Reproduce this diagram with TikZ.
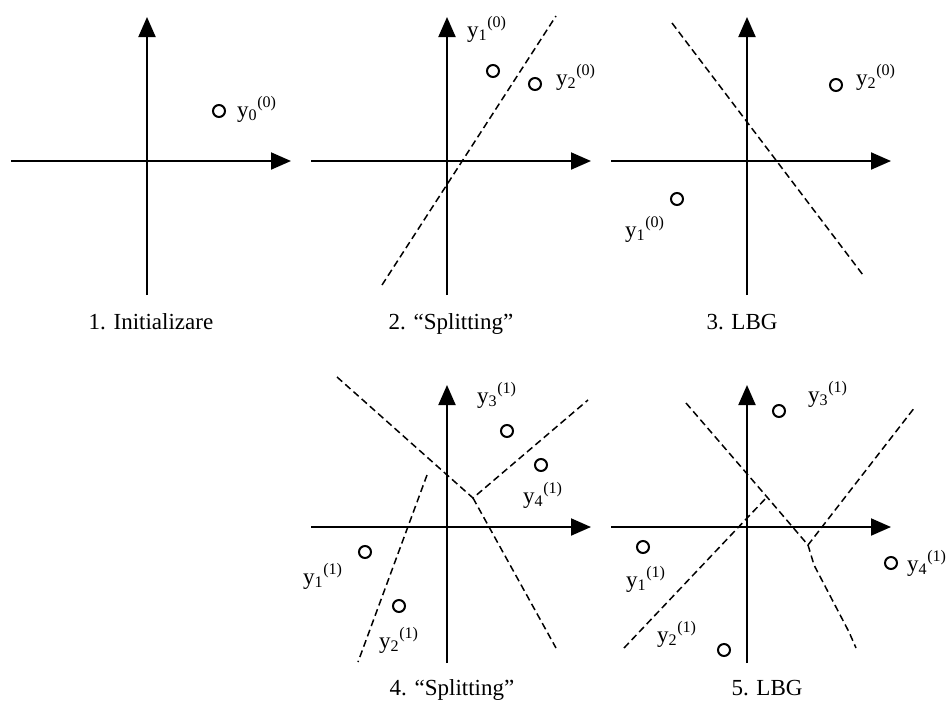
\documentclass[tikz,border=0pt]{standalone}
\usepackage{fontspec}
\setmainfont{Liberation Serif}
\usetikzlibrary{arrows.meta}

\begin{document}
\begin{tikzpicture}[
    x=1pt, y=-1pt,
    axisline/.style={line width=2pt, -{Triangle[length=20pt, width=17pt]}},
    border/.style={line width=1.5pt, dash pattern=on 7pt off 4pt},
    centroid/.style={circle, draw, line width=2pt, minimum size=12pt, inner sep=0pt},
    vlabel/.style={anchor=base west, inner sep=0pt, font=\fontsize{23}{27}\selectfont},
    ptitle/.style={anchor=base, inner sep=0pt, font=\fontsize{23}{27}\selectfont},
]
\useasboundingbox (0,0) rectangle (949,713);

% ── 1. Initializare ────────────────────────────
\begin{scope}[shift={(147,161)}]
\draw[axisline] (-136,0) -- (144,0);
\draw[axisline] (0,134) -- (0,-144);
\node[centroid] (c10) at (72,-50) {};
\node[vlabel] (l10) at (90,-44) {y\textsubscript{0}\textsuperscript{(0)}};
\node[ptitle] (t1) at (4,168) {1. Initializare};
\end{scope}

% ── 2. Splitting ────────────────────────────
\begin{scope}[shift={(447,161)}]
\draw[axisline] (-136,0) -- (144,0);
\draw[axisline] (0,134) -- (0,-144);
\draw[border] (-65,124) -- (109,-145);
\node[centroid] (c21) at (46,-90) {};
\node[centroid] (c22) at (88,-77) {};
\node[vlabel] (l21) at (20,-124) {y\textsubscript{1}\textsuperscript{(0)}};
\node[vlabel] (l22) at (109,-76) {y\textsubscript{2}\textsuperscript{(0)}};
\node[ptitle] (t2) at (4,168) {2. “Splitting”};
\end{scope}

% ── 3. LBG ────────────────────────────
\begin{scope}[shift={(747,161)}]
\draw[axisline] (-136,0) -- (144,0);
\draw[axisline] (0,134) -- (0,-144);
\draw[border] (-75,-138) -- (116,114);
\node[centroid] (c31) at (-70,38) {};
\node[centroid] (c32) at (89,-76) {};
\node[vlabel] (l31) at (-122,76) {y\textsubscript{1}\textsuperscript{(0)}};
\node[vlabel] (l32) at (109,-76) {y\textsubscript{2}\textsuperscript{(0)}};
\node[ptitle] (t3) at (-5,168) {3. LBG};
\end{scope}

% ── 4. Splitting ────────────────────────────
\begin{scope}[shift={(447,527)}]
\draw[axisline] (-136,0) -- (144,0);
\draw[axisline] (0,136) -- (0,-142);
\coordinate (j4) at (26,-29);
\draw[border] (-110,-150) -- (j4) -- (141,-127);
\draw[border] (j4) -- (109,121);
\draw[border] (-20,-52) -- (-89,135);
\node[centroid] (c41) at (-82,25) {};
\node[centroid] (c42) at (-48,79) {};
\node[centroid] (c43) at (60,-96) {};
\node[centroid] (c44) at (94,-62) {};
\node[vlabel] (l41) at (-144,57) {y\textsubscript{1}\textsuperscript{(1)}};
\node[vlabel] (l42) at (-68,121) {y\textsubscript{2}\textsuperscript{(1)}};
\node[vlabel] (l43) at (30,-124) {y\textsubscript{3}\textsuperscript{(1)}};
\node[vlabel] (l44) at (76,-24) {y\textsubscript{4}\textsuperscript{(1)}};
\node[ptitle] (t4) at (5,168) {4. “Splitting”};
\end{scope}

% ── 5. LBG ────────────────────────────
\begin{scope}[shift={(747,527)}]
\draw[axisline] (-136,0) -- (144,0);
\draw[axisline] (0,136) -- (0,-142);
\coordinate (j5) at (61,18);
\coordinate (k5) at (20,-30);
\draw[border] (-61,-124) -- (k5) -- (j5) -- (168,-120);
\draw[border] (j5) -- (67,38) -- (102,105) -- (109,121);
\draw[border] (-123,121) -- (k5);
\node[centroid] (c51) at (-104,20) {};
\node[centroid] (c52) at (-23,123) {};
\node[centroid] (c53) at (32,-116) {};
\node[centroid] (c54) at (144,36) {};
\node[vlabel] (l51) at (-121,60) {y\textsubscript{1}\textsuperscript{(1)}};
\node[vlabel] (l52) at (-90,115) {y\textsubscript{2}\textsuperscript{(1)}};
\node[vlabel] (l53) at (61,-125) {y\textsubscript{3}\textsuperscript{(1)}};
\node[vlabel] (l54) at (160,44) {y\textsubscript{4}\textsuperscript{(1)}};
\node[ptitle] (t5) at (20,168) {5. LBG};
\end{scope}

\end{tikzpicture}
\end{document}
